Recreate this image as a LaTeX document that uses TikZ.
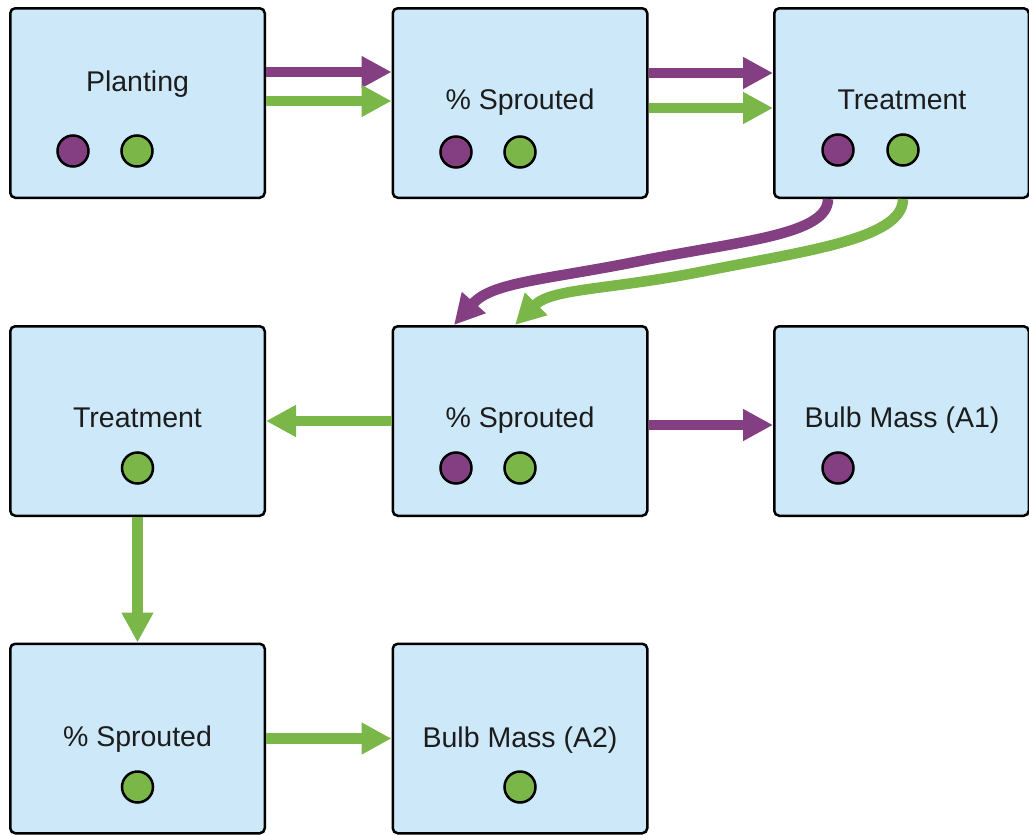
\documentclass[tikz,border=0pt]{standalone}
\usepackage{fontspec}
\setmainfont{Liberation Sans}
\usetikzlibrary{arrows.meta}
\definecolor{boxfill}{HTML}{CDE8F8}
\definecolor{pur}{HTML}{843F82}
\definecolor{grn}{HTML}{7AB648}
\definecolor{txt}{HTML}{1C1C1C}
\tikzset{
  box/.style={draw=black, fill=boxfill, line width=2.5pt, rounded corners=5pt,
    minimum width=254.5pt, minimum height=189.5pt, inner sep=0pt},
  lbl/.style={anchor=base, text=txt, inner sep=0pt, font=\fontsize{28.5}{34}\selectfont},
  dotp/.style={circle, draw=black, line width=2.5pt, fill=pur, minimum size=31pt, inner sep=0pt},
  dotg/.style={circle, draw=black, line width=2.5pt, fill=grn, minimum size=31pt, inner sep=0pt},
  conn/.style={line width=10.5pt, -{Triangle[length=30pt,width=30pt]}},
  pconn/.style={conn, draw=pur, color=pur},
  gconn/.style={conn, draw=grn, color=grn},
}
\begin{document}
\begin{tikzpicture}[x=1pt,y=-1pt]
\useasboundingbox (0,0) rectangle (1029,835);
% boxes
\node[box] (b1) at (137.5,103) {};
\node[box] (b2) at (520,103) {};
\node[box] (b3) at (901.5,103) {};
\node[box] (b4) at (137.5,421) {};
\node[box] (b5) at (520,421) {};
\node[box] (b6) at (901.5,421) {};
\node[box] (b7) at (137.5,738.5) {};
\node[box] (b8) at (520,738.5) {};
% labels
\node[lbl] (t1) at (137.5,91.5) {Planting};
\node[lbl] (t2) at (520,109.5) {\% Sprouted};
\node[lbl] (t3) at (902,109.5) {Treatment};
\node[lbl] (t4) at (137.5,427.5) {Treatment};
\node[lbl] (t5) at (520,427.5) {\% Sprouted};
\node[lbl] (t6) at (902,427.5) {Bulb Mass (A1)};
\node[lbl] (t7) at (137.5,746.5) {\% Sprouted};
\node[lbl] (t8) at (520,747) {Bulb Mass (A2)};
% dots
\node[dotp] (d1p) at (73,151) {};
\node[dotg] (d1g) at (137,151) {};
\node[dotp] (d2p) at (456,152) {};
\node[dotg] (d2g) at (520,152) {};
\node[dotp] (d3p) at (838,150) {};
\node[dotg] (d3g) at (903,150) {};
\node[dotg] (d4g) at (137.5,468) {};
\node[dotp] (d5p) at (456,468) {};
\node[dotg] (d5g) at (520,468) {};
\node[dotp] (d6p) at (838,468) {};
\node[dotg] (d7g) at (137.5,787) {};
\node[dotg] (d8g) at (520,787) {};
% straight connectors
\draw[pconn] ([yshift=31pt]b1.east) -- ([yshift=31pt]b2.west);
\draw[gconn] ([yshift=2pt]b1.east) -- ([yshift=2pt]b2.west);
\draw[pconn] ([yshift=30pt]b2.east) -- ([yshift=30pt]b3.west);
\draw[gconn] ([yshift=-5pt]b2.east) -- ([yshift=-5pt]b3.west);
\draw[gconn] (b5.west) -- (b4.east);
\draw[pconn] ([yshift=-4pt]b5.east) -- ([yshift=-4pt]b6.west);
\draw[gconn] (b4.south) -- (b7.north);
\draw[gconn] (b7.east) -- (b8.west);
% curved connectors
\draw[pconn] ([xshift=-73.5pt]b3.south) .. controls +(0,36) and (740,241) .. (640,261)
  .. controls (545,280) and (492,282) .. ([xshift=-66pt]b5.north);
\draw[gconn] ([xshift=1.5pt]b3.south) .. controls +(0,40) and (805,251) .. (705,271)
  .. controls (610,290) and (552,288) .. ([xshift=-5pt]b5.north);
\end{tikzpicture}
\end{document}
